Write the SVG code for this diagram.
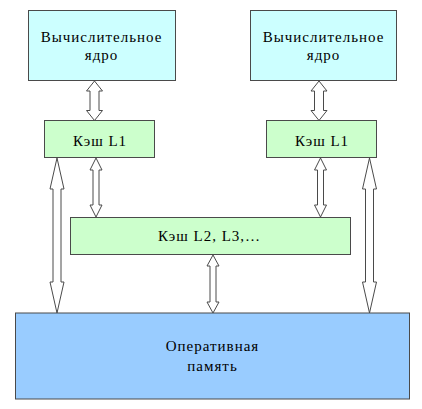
<svg xmlns="http://www.w3.org/2000/svg" width="422" height="409" viewBox="0 0 422 409">
<style>
.box{stroke:#4a4a4a;stroke-width:1}
.core{fill:#CCFFFF}
.cache{fill:#CCFFCC}
.mem{fill:#99CCFF}
.arr{fill:#fff;stroke:#4a4a4a;stroke-width:1;stroke-linejoin:miter}
</style>
<rect width="422" height="409" fill="#fff"/>
<g id="connectors">
<path class="arr" d="M94.5,81 L102.5,91 L99,91 L99,110.5 L102.5,110.5 L94.5,120.5 L86.5,110.5 L90,110.5 L90,91 L86.5,91 Z"/>
<path class="arr" d="M319,81 L327,91 L323.5,91 L323.5,110.5 L327,110.5 L319,120.5 L311,110.5 L314.5,110.5 L314.5,91 L311,91 Z"/>
<path class="arr" d="M96,158 L102,170 L99,170 L99,205 L102,205 L96,217 L90,205 L93,205 L93,170 L90,170 Z"/>
<path class="arr" d="M320.5,158 L326.5,170 L323.5,170 L323.5,205 L326.5,205 L320.5,217 L314.5,205 L317.5,205 L317.5,170 L314.5,170 Z"/>
<path class="arr" d="M213,255 L219,266 L216,266 L216,302 L219,302 L213,313 L207,302 L210,302 L210,266 L207,266 Z"/>
<path class="arr" d="M57,158 L64,189 L61,189 L61,282 L64,282 L57,313 L50,282 L53,282 L53,189 L50,189 Z"/>
<path class="arr" d="M369.5,158 L376.5,189 L373.5,189 L373.5,282 L376.5,282 L369.5,313 L362.5,282 L365.5,282 L365.5,189 L362.5,189 Z"/>
</g>
<g font-family="Liberation Serif" font-size="15" letter-spacing="1" text-anchor="middle" fill="#000">
<g id="core-left">
<rect class="box core" x="28.5" y="10.5" width="147" height="70"/>
<text x="101.5" y="42">Вычислительное</text>
<text x="101.5" y="60">ядро</text>
</g>
<g id="core-right">
<rect class="box core" x="250.5" y="10.5" width="146" height="70"/>
<text x="323.5" y="42">Вычислительное</text>
<text x="323.5" y="60">ядро</text>
</g>
<g id="l1-left">
<rect class="box cache" x="44.5" y="120.5" width="110" height="37"/>
<text x="100" y="146">Кэш L1</text>
</g>
<g id="l1-right">
<rect class="box cache" x="266.5" y="120.5" width="110" height="37"/>
<text x="322" y="146">Кэш L1</text>
</g>
<g id="l2">
<rect class="box cache" x="70.5" y="217.5" width="280" height="37"/>
<text x="209.5" y="240.5">Кэш L2, L3,…</text>
</g>
<g id="memory">
<rect class="box mem" x="15.5" y="313" width="394" height="86"/>
<text x="212.5" y="350.5">Оперативная</text>
<text x="212.5" y="370.5">память</text>
</g>
</g>
</svg>
